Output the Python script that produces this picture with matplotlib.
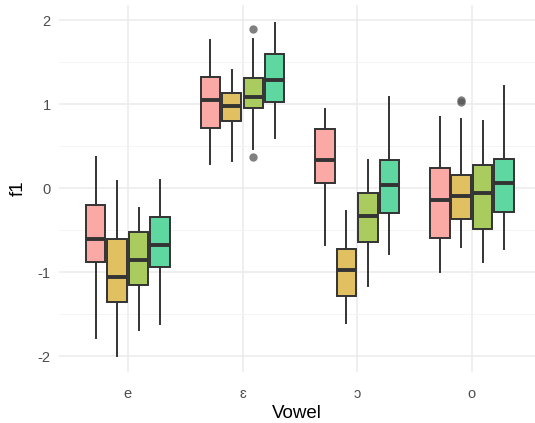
import matplotlib
matplotlib.use("Agg")
import matplotlib.pyplot as plt
from matplotlib.ticker import MultipleLocator

plt.rcParams['font.family'] = ['Liberation Sans', 'DejaVu Sans']
plt.rcParams['axes.unicode_minus'] = False

vowels = ["e", "ɛ", "ɔ", "o"]
fills = ["#FBA9A5", "#E1C062", "#AACC5E", "#5ED7A0"]

# per group (vowel) and hue: whisker low, q1, median, q3, whisker high
whislo = [[-1.78, -2.00, -1.69, -1.62],
          [0.29, 0.32, 0.46, 0.60],
          [-0.68, -1.61, -1.17, -0.79],
          [-1.00, -0.70, -0.88, -0.72]]
q1 = [[-0.88, -1.36, -1.15, -0.94],
      [0.72, 0.80, 0.95, 1.03],
      [0.06, -1.29, -0.64, -0.30],
      [-0.60, -0.37, -0.49, -0.29]]
med = [[-0.61, -1.06, -0.86, -0.68],
       [1.05, 0.98, 1.09, 1.29],
       [0.34, -0.97, -0.33, 0.04],
       [-0.14, -0.09, -0.06, 0.06]]
q3 = [[-0.20, -0.61, -0.52, -0.35],
      [1.32, 1.13, 1.31, 1.60],
      [0.70, -0.73, -0.06, 0.33],
      [0.24, 0.15, 0.27, 0.35]]
whishi = [[0.365, 0.09, -0.24, 0.10],
          [1.76, 1.41, 1.77, 1.97],
          [0.94, -0.27, 0.33, 1.08],
          [0.85, 0.82, 0.80, 1.21]]
outliers = [[[], [], [], []],
            [[], [], [1.89, 0.37], []],
            [[], [], [], []],
            [[], [1.05, 1.02], [], []]]

offsets = [-0.28, -0.094, 0.094, 0.28]

W, H = 535, 423
fig = plt.figure(figsize=(W / 100, H / 100), dpi=100)
ax = fig.add_axes([59 / W, 1 - 372 / H, (535 - 59) / W, (372 - 5) / H])

for g in range(4):
    for h in range(4):
        st = dict(whislo=whislo[g][h], q1=q1[g][h], med=med[g][h],
                  q3=q3[g][h], whishi=whishi[g][h], fliers=outliers[g][h])
        ax.bxp([st], positions=[g + 1 + offsets[h]], widths=0.17,
               showcaps=False, patch_artist=True,
               boxprops=dict(facecolor=fills[h], edgecolor="#333333", linewidth=1.4),
               whiskerprops=dict(color="#333333", linewidth=1.4),
               medianprops=dict(color="#333333", linewidth=2.8),
               flierprops=dict(marker="o", markerfacecolor="#555555", markeredgecolor="none",
                               markersize=6, alpha=0.75),
               manage_ticks=False)

ax.set_xlim(0.4, 4.55)
ax.set_ylim(-2.19, 2.18)
ax.set_xticks([1, 2, 3, 4])
ax.set_xticklabels(vowels)
ax.yaxis.set_major_locator(MultipleLocator(1))
ax.yaxis.set_minor_locator(MultipleLocator(0.5))

ax.set_axisbelow(True)
ax.grid(True, which="major", color="#EBEBEB", linewidth=1.1)
ax.grid(True, which="minor", axis="y", color="#F3F3F3", linewidth=0.6)
for s in ax.spines.values():
    s.set_visible(False)
ax.tick_params(axis="both", which="both", length=0, colors="#4D4D4D", labelsize=10.5)
ax.tick_params(axis="x", pad=11)
ax.tick_params(axis="y", pad=6)

ax.set_xlabel("Vowel", fontsize=13.5, color="black", labelpad=3)
ax.set_ylabel("f1", fontsize=13.5, color="black", labelpad=8)

fig.savefig("out.png", dpi=100)
